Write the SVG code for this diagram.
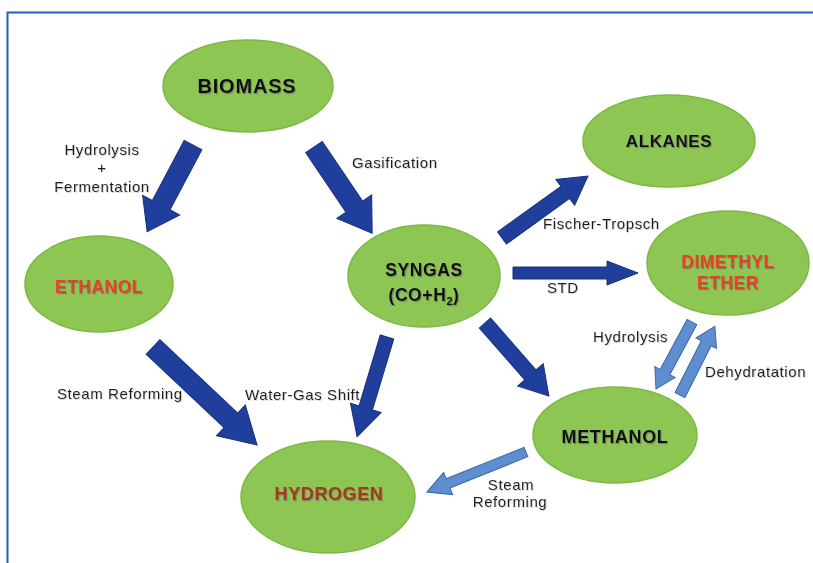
<svg xmlns="http://www.w3.org/2000/svg" width="813" height="563" viewBox="0 0 813 563">
  <defs>
    <filter id="shadow" x="-10%" y="-30%" width="120%" height="160%">
      <feDropShadow dx="1" dy="1.2" stdDeviation="0.6" flood-color="#6b6b6b" flood-opacity="0.7"/>
    </filter>
    <filter id="soft" x="-10%" y="-30%" width="120%" height="160%">
      <feDropShadow dx="0.8" dy="0.8" stdDeviation="0.5" flood-color="#9a9a9a" flood-opacity="0.5"/>
    </filter>
  </defs>
  <style>
    .node { fill: #8dc653; stroke: #7bb944; stroke-width: 1.5; }
    .title { font-family: "Liberation Sans", Arial, sans-serif; font-weight: bold; text-anchor: middle; filter: url(#shadow); }
    .dark { fill: #111; }
    .red { fill: #e8431d; }
    .brick { fill: #a8361c; }
    .lbl { font-family: "Liberation Sans", Arial, sans-serif; font-size: 15px; fill: #1e1e1e; letter-spacing: 0.6px; filter: url(#soft); }
    .mid { text-anchor: middle; }
    .big { fill: #203f9c; stroke: #16317f; stroke-width: 1; }
    .light { fill: #5e8ed0; stroke: #3a68ad; stroke-width: 1; }
  </style>

  <rect width="813" height="563" fill="#ffffff"/>
  <!-- page frame -->
  <path d="M7.5,563 V12.5 H813" fill="none" stroke="#1f62b8" stroke-width="2"/>

  <!-- connectors: block arrows drawn along +x, then placed with translate/rotate -->
  <g id="connectors">
    <!-- Biomass to Ethanol -->
    <polygon class="big" transform="translate(193,145) rotate(117.9)" points="0,-10 68,-10 68,-21 98,0 68,21 68,10 0,10"/>
    <!-- Biomass to Syngas -->
    <polygon class="big" transform="translate(314,147) rotate(56)" points="0,-10 72,-10 72,-21 104,0 72,21 72,10 0,10"/>
    <!-- Syngas to Alkanes -->
    <polygon class="big" transform="translate(502,238) rotate(-35.8)" points="0,-7.5 78,-7.5 78,-16 106,0 78,16 78,7.5 0,7.5"/>
    <!-- Syngas to Dimethyl ether -->
    <polygon class="big" transform="translate(513,273) rotate(0)" points="0,-6 94,-6 94,-12 125,0 94,12 94,6 0,6"/>
    <!-- Syngas to Methanol -->
    <polygon class="big" transform="translate(485,323) rotate(48.8)" points="0,-7.5 69,-7.5 69,-17 97,0 69,17 69,7.5 0,7.5"/>
    <!-- Syngas to Hydrogen -->
    <polygon class="big" transform="translate(387,337) rotate(106.7)" points="0,-7 74,-7 74,-16 104,0 74,16 74,7 0,7"/>
    <!-- Ethanol to Hydrogen -->
    <polygon class="big" transform="translate(153,347) rotate(43.3)" points="0,-10 107,-10 107,-21 143,0 107,21 107,10 0,10"/>
    <!-- Dimethyl ether to Methanol (hydrolysis) -->
    <polygon class="light" transform="translate(692,322) rotate(118.3)" points="0,-5.5 57,-5.5 57,-11.5 76,0 57,11.5 57,5.5 0,5.5"/>
    <!-- Methanol to Dimethyl ether (dehydratation) -->
    <polygon class="light" transform="translate(680,395) rotate(-63.1)" points="0,-5.5 58,-5.5 58,-11.5 77,0 58,11.5 58,5.5 0,5.5"/>
    <!-- Methanol to Hydrogen -->
    <polygon class="light" transform="translate(526,452) rotate(158)" points="0,-5 84,-5 84,-12 107,0 84,12 84,5 0,5"/>
  </g>

  <!-- nodes -->
  <g id="biomass">
    <ellipse class="node" cx="248" cy="86" rx="85" ry="46"/>
    <text class="title dark" x="247" y="93" font-size="20" letter-spacing="0.8">BIOMASS</text>
  </g>
  <g id="alkanes">
    <ellipse class="node" cx="669" cy="141" rx="86" ry="46"/>
    <text class="title dark" x="669" y="147" font-size="17" letter-spacing="0.6">ALKANES</text>
  </g>
  <g id="ethanol">
    <ellipse class="node" cx="99" cy="284" rx="74" ry="48"/>
    <text class="title red" x="99" y="293" font-size="17.5" letter-spacing="0.5">ETHANOL</text>
  </g>
  <g id="syngas">
    <ellipse class="node" cx="424" cy="276" rx="76" ry="51"/>
    <text class="title dark" x="424" y="276" font-size="17.5" letter-spacing="0.6">SYNGAS</text>
    <text class="title dark" x="424" y="301" font-size="17.5" letter-spacing="0.6">(CO+H<tspan font-size="11" dy="4">2</tspan><tspan dy="-4">)</tspan></text>
  </g>
  <g id="dimethyl-ether">
    <ellipse class="node" cx="728" cy="263" rx="81" ry="52"/>
    <text class="title red" x="728" y="268" font-size="17.5" letter-spacing="0.5">DIMETHYL</text>
    <text class="title red" x="728" y="289" font-size="17.5" letter-spacing="0.5">ETHER</text>
  </g>
  <g id="methanol">
    <ellipse class="node" cx="615" cy="435" rx="82" ry="48"/>
    <text class="title dark" x="615" y="443" font-size="18" letter-spacing="0.6">METHANOL</text>
  </g>
  <g id="hydrogen">
    <ellipse class="node" cx="328" cy="497" rx="87" ry="56"/>
    <text class="title brick" x="329" y="500" font-size="18" letter-spacing="0.6">HYDROGEN</text>
  </g>

  <!-- process labels -->
  <g id="labels">
    <text class="lbl mid" x="102" y="155">Hydrolysis</text>
    <text class="lbl mid" x="102" y="173">+</text>
    <text class="lbl mid" x="102" y="192">Fermentation</text>
    <text class="lbl" x="352" y="168">Gasification</text>
    <text class="lbl" x="543" y="229">Fischer-Tropsch</text>
    <text class="lbl" x="547" y="293">STD</text>
    <text class="lbl" x="593" y="342">Hydrolysis</text>
    <text class="lbl" x="705" y="377">Dehydratation</text>
    <text class="lbl" x="57" y="399">Steam Reforming</text>
    <text class="lbl" x="245" y="400">Water-Gas Shift</text>
    <text class="lbl mid" x="511" y="490">Steam</text>
    <text class="lbl mid" x="510" y="507">Reforming</text>
  </g>
</svg>
